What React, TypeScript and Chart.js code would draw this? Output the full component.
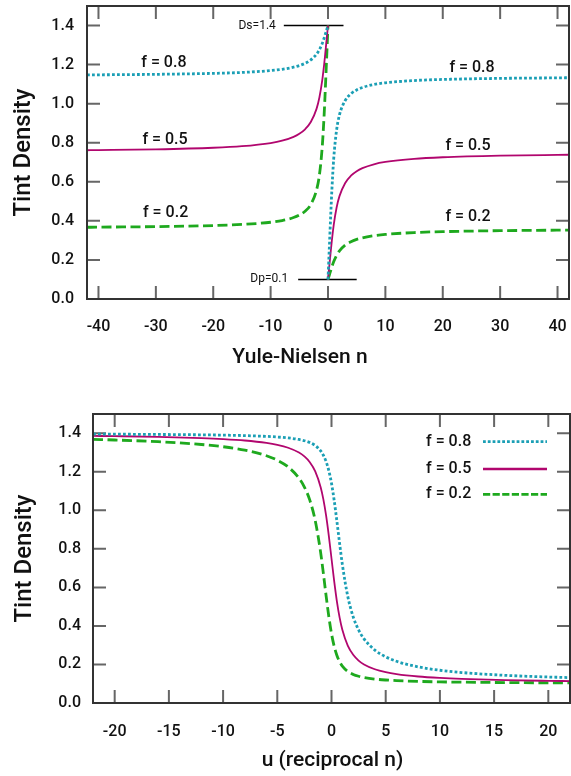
import React, { useEffect, useRef } from "react";
import { Chart, registerables } from "chart.js";
Chart.register(...registerables);

// ---------- data: top chart (Yule-Nielsen n) ----------
const N_NEG = [-42, -40, -30, -20, -15, -10, -8, -6, -5, -4, -3, -2, -1.5, -1, -0.667, -0.5, -0.333, -0.25, -0.1, -0.05, 0];
const N_POS = [0, 0.05, 0.1, 0.25, 0.333, 0.5, 0.667, 1, 1.5, 2, 3, 4, 5, 6, 8, 10, 15, 20, 30, 40, 42];

const TOP_F08_NEG = [1.1472, 1.1477, 1.1502, 1.1551, 1.1599, 1.1693, 1.176, 1.1868, 1.195, 1.2065, 1.2241, 1.2535, 1.2764, 1.3085, 1.3362, 1.3517, 1.3677, 1.3758, 1.3903, 1.3952, 1.4];
const TOP_F08_POS = [0.1, 0.1349, 0.1699, 0.2747, 0.3329, 0.4473, 0.5533, 0.7196, 0.8656, 0.9424, 1.0163, 1.0506, 1.0704, 1.083, 1.0982, 1.107, 1.1184, 1.124, 1.1295, 1.1321, 1.1328];
const TOP_F05_NEG = [0.7616, 0.7622, 0.7661, 0.7743, 0.7824, 0.7985, 0.8104, 0.8302, 0.8459, 0.869, 0.9059, 0.9734, 1.0315, 1.1202, 1.2025, 1.25, 1.2997, 1.3247, 1.3699, 1.3849, 1.4];
const TOP_F05_POS = [0.1, 0.1151, 0.1301, 0.1753, 0.2003, 0.25, 0.2975, 0.3798, 0.4685, 0.5266, 0.5941, 0.631, 0.6541, 0.6698, 0.6896, 0.7015, 0.7176, 0.7257, 0.7339, 0.7378, 0.7384];
const TOP_F02_NEG = [0.3672, 0.3679, 0.3705, 0.376, 0.3816, 0.393, 0.4018, 0.417, 0.4296, 0.4494, 0.4837, 0.5576, 0.6344, 0.7804, 0.9467, 1.0527, 1.1671, 1.2253, 1.3301, 1.3651, 1.4];
const TOP_F02_POS = [0.1, 0.1048, 0.1097, 0.1242, 0.1323, 0.1483, 0.1638, 0.1915, 0.2236, 0.2465, 0.2759, 0.2935, 0.305, 0.3132, 0.324, 0.3307, 0.3401, 0.3449, 0.3498, 0.3523, 0.3528];

const DS_LINE_N = [-7.7, 2.7];
const DS_VALUE = 1.4;
const DP_LINE_N = [-5.2, 5.0];
const DP_VALUE = 0.1;

// ---------- data: bottom chart (u = reciprocal n) ----------
const U_VALUES = [-22, -20, -16, -12, -10, -8, -6, -5, -4, -3, -2.5, -2, -1.5, -1, -0.75, -0.5, -0.25, 0, 0.25, 0.5, 0.75, 1, 1.5, 2, 2.5, 3, 4, 5, 6, 8, 10, 12, 16, 20, 22];
const BOT_F08 = [1.3956, 1.3952, 1.3939, 1.3919, 1.3903, 1.3879, 1.3838, 1.3806, 1.3758, 1.3677, 1.3613, 1.3517, 1.3362, 1.3085, 1.2859, 1.2535, 1.2065, 1.14, 1.0506, 0.9424, 0.8274, 0.7196, 0.5533, 0.4473, 0.3792, 0.3329, 0.2747, 0.2398, 0.2165, 0.1874, 0.1699, 0.1582, 0.1437, 0.1349, 0.1318];
const BOT_F05 = [1.3863, 1.3849, 1.3812, 1.3749, 1.3699, 1.3624, 1.3498, 1.3398, 1.3247, 1.2997, 1.2797, 1.25, 1.2025, 1.1202, 1.0569, 0.9734, 0.869, 0.75, 0.631, 0.5266, 0.4431, 0.3798, 0.2975, 0.25, 0.2203, 0.2003, 0.1753, 0.1602, 0.1502, 0.1376, 0.1301, 0.1251, 0.1188, 0.1151, 0.1137];
const BOT_F02 = [1.3682, 1.3651, 1.3563, 1.3418, 1.3301, 1.3126, 1.2835, 1.2602, 1.2253, 1.1671, 1.1208, 1.0527, 0.9467, 0.7804, 0.6726, 0.5576, 0.4494, 0.36, 0.2935, 0.2465, 0.2141, 0.1915, 0.1638, 0.1483, 0.1387, 0.1323, 0.1242, 0.1194, 0.1162, 0.1121, 0.1097, 0.1081, 0.1061, 0.1048, 0.1044];

// ---------- ticks / labels ----------
const TOP_X_TICKS = [-40, -30, -20, -10, 0, 10, 20, 30, 40];
const BOT_X_TICKS = [-20, -15, -10, -5, 0, 5, 10, 15, 20];
const Y_TICKS = [0, 0.2, 0.4, 0.6, 0.8, 1.0, 1.2, 1.4];
const SERIES_LABELS = ["f = 0.8", "f = 0.5", "f = 0.2"];

// ---------- styles ----------
const FONT = "Roboto, 'Noto Sans', sans-serif";
const CYAN = "#1b9fb5";
const MAGENTA = "#b1066e";
const GREEN = "#1ea91e";
const STYLES = [
  { borderColor: CYAN, borderWidth: 2.8, borderDash: [2.8, 2.2], borderCapStyle: "butt" },
  { borderColor: MAGENTA, borderWidth: 1.8, borderDash: [] },
  { borderColor: GREEN, borderWidth: 2.8, borderDash: [10, 4.5], borderCapStyle: "butt" },
];
const LEGEND_STYLES = [
  { color: CYAN, width: 2.8, dash: [2.8, 2.0] },
  { color: MAGENTA, width: 2.4, dash: [] },
  { color: GREEN, width: 2.8, dash: [7.2, 2.4] },
];

// annotation placement (data coordinates) for top chart texts
const TOP_TEXT = [
  { t: "f = 0.8", x: -28.6, y: 1.209 },
  { t: "f = 0.5", x: -28.4, y: 0.816 },
  { t: "f = 0.2", x: -28.3, y: 0.441 },
  { t: "f = 0.8", x: 25.1, y: 1.182 },
  { t: "f = 0.5", x: 24.4, y: 0.784 },
  { t: "f = 0.2", x: 24.4, y: 0.418 },
];

const W = 571;
const H = 388;

function pts(xs: number[], ys: number[]) {
  return xs.map((x, i) => ({ x, y: ys[i] }));
}

function tickFramePlugin(xTicks: number[], yTicks: number[]) {
  return {
    id: "tickFrame",
    beforeDatasetsDraw(chart: any) {
      const { ctx, chartArea: a, scales } = chart;
      ctx.save();
      ctx.strokeStyle = "#666";
      ctx.lineWidth = 2;
      ctx.beginPath();
      const L = 13;
      for (const v of xTicks) {
        const x = scales.x.getPixelForValue(v);
        ctx.moveTo(x, a.bottom);
        ctx.lineTo(x, a.bottom - L);
        ctx.moveTo(x, a.top);
        ctx.lineTo(x, a.top + L);
      }
      for (const v of yTicks) {
        const y = scales.y.getPixelForValue(v);
        ctx.moveTo(a.left, y);
        ctx.lineTo(a.left + L, y);
        ctx.moveTo(a.right, y);
        ctx.lineTo(a.right - L, y);
      }
      ctx.stroke();
      ctx.restore();
    },
    afterDatasetsDraw(chart: any) {
      const { ctx, chartArea: a } = chart;
      ctx.save();
      ctx.strokeStyle = "#333";
      ctx.lineWidth = 2;
      ctx.strokeRect(a.left, a.top, a.right - a.left, a.bottom - a.top);
      ctx.restore();
    },
  };
}

function titlesPlugin(yTitle: string, yx: number, xTitle: string, xx: number, xy: number) {
  return {
    id: "titles",
    afterDraw(chart: any) {
      const { ctx, chartArea: a } = chart;
      ctx.save();
      ctx.fillStyle = "#111";
      ctx.textAlign = "center";
      ctx.textBaseline = "middle";
      ctx.font = `500 24px ${FONT}`;
      ctx.translate(yx, (a.top + a.bottom) / 2);
      ctx.rotate(-Math.PI / 2);
      ctx.fillText(yTitle, 0, 0);
      ctx.restore();
      ctx.save();
      ctx.fillStyle = "#111";
      ctx.textAlign = "center";
      ctx.textBaseline = "middle";
      ctx.font = `500 21px ${FONT}`;
      ctx.fillText(xTitle, xx, xy);
      ctx.restore();
    },
  };
}

const topTextPlugin = {
  id: "topText",
  afterDatasetsDraw(chart: any) {
    const { ctx, scales } = chart;
    ctx.save();
    ctx.fillStyle = "#111";
    ctx.textBaseline = "middle";
    ctx.textAlign = "center";
    ctx.font = `500 16px ${FONT}`;
    for (const l of TOP_TEXT) {
      ctx.fillText(l.t, scales.x.getPixelForValue(l.x), scales.y.getPixelForValue(l.y));
    }
    ctx.font = `12px ${FONT}`;
    ctx.textAlign = "right";
    ctx.fillText("Ds=1.4", scales.x.getPixelForValue(-9.1), scales.y.getPixelForValue(DS_VALUE));
    ctx.fillText("Dp=0.1", scales.x.getPixelForValue(-6.95), scales.y.getPixelForValue(DP_VALUE));
    ctx.restore();
  },
};

const legendPlugin = {
  id: "customLegend",
  afterDatasetsDraw(chart: any) {
    const { ctx } = chart;
    const rows = [53.7, 81, 106.3];
    ctx.save();
    ctx.font = `500 16px ${FONT}`;
    ctx.textBaseline = "middle";
    ctx.textAlign = "left";
    ctx.fillStyle = "#111";
    SERIES_LABELS.forEach((lab, i) => {
      const y = rows[i];
      ctx.fillText(lab, 426, y);
      const st = LEGEND_STYLES[i];
      ctx.strokeStyle = st.color;
      ctx.lineWidth = st.width;
      ctx.setLineDash(st.dash);
      ctx.lineCap = "butt";
      ctx.beginPath();
      ctx.moveTo(483, y);
      ctx.lineTo(547, y);
      ctx.stroke();
    });
    ctx.setLineDash([]);
    ctx.restore();
  },
};

function baseScales(xMin: number, xMax: number, xTicks: number[], yWidth: number, xHeight: number, yPad: number, xPad: number) {
  const tickFont = { family: FONT, size: 16, weight: "500" as any };
  return {
    x: {
      type: "linear" as const,
      min: xMin,
      max: xMax,
      afterBuildTicks: (s: any) => {
        s.ticks = xTicks.map((value) => ({ value }));
      },
      afterFit: (s: any) => {
        s.height = xHeight;
        s.paddingLeft = 0;
        s.paddingRight = 0;
        s.paddingTop = 0;
        s.paddingBottom = 0;
      },
      grid: { display: false, drawTicks: false },
      border: { display: false },
      ticks: {
        padding: xPad,
        font: tickFont,
        color: "#111",
        maxRotation: 0,
        autoSkip: false,
        callback: (v: any) => String(v),
      },
    },
    y: {
      type: "linear" as const,
      min: 0,
      max: 1.5,
      afterBuildTicks: (s: any) => {
        s.ticks = Y_TICKS.map((value) => ({ value }));
      },
      afterFit: (s: any) => {
        s.width = yWidth;
        s.paddingLeft = 0;
        s.paddingRight = 0;
        s.paddingTop = 0;
        s.paddingBottom = 0;
      },
      grid: { display: false, drawTicks: false },
      border: { display: false },
      ticks: {
        padding: yPad,
        font: tickFont,
        color: "#111",
        autoSkip: false,
        callback: (v: any) => Number(v).toFixed(1),
      },
    },
  };
}

export default function App() {
  const topRef = useRef<HTMLCanvasElement>(null);
  const botRef = useRef<HTMLCanvasElement>(null);

  useEffect(() => {
    const common = {
      responsive: false,
      animation: false as const,
      devicePixelRatio: 1,
      events: [] as any[],
      plugins: { legend: { display: false }, tooltip: { enabled: false } },
      elements: { point: { radius: 0 }, line: { cubicInterpolationMode: "monotone" as const, fill: false } },
    };

    const topSeries = [
      [TOP_F08_NEG, TOP_F08_POS],
      [TOP_F05_NEG, TOP_F05_POS],
      [TOP_F02_NEG, TOP_F02_POS],
    ];
    const topDatasets: any[] = [];
    topSeries.forEach((pair, i) => {
      topDatasets.push({ label: SERIES_LABELS[i], data: pts(N_NEG, pair[0]), ...STYLES[i] });
      topDatasets.push({ label: SERIES_LABELS[i], data: pts(N_POS, pair[1]), ...STYLES[i] });
    });
    topDatasets.push({
      label: "Ds",
      data: pts(DS_LINE_N, [DS_VALUE, DS_VALUE]),
      borderColor: "#000",
      borderWidth: 1.4,
      cubicInterpolationMode: "default",
    });
    topDatasets.push({
      label: "Dp",
      data: pts(DP_LINE_N, [DP_VALUE, DP_VALUE]),
      borderColor: "#000",
      borderWidth: 1.4,
      cubicInterpolationMode: "default",
    });

    const top = new Chart(topRef.current!, {
      type: "line",
      data: { datasets: topDatasets },
      options: {
        ...common,
        layout: { padding: { top: 6, right: 2, left: 0, bottom: 0 } },
        scales: baseScales(-42, 42, TOP_X_TICKS, 87, H - 299, 13, 18) as any,
      } as any,
      plugins: [tickFramePlugin(TOP_X_TICKS, Y_TICKS), topTextPlugin, titlesPlugin("Tint Density", 24, "Yule-Nielsen n", 300, 358)],
    });

    const botSeries = [BOT_F08, BOT_F05, BOT_F02];
    const botDatasets = botSeries.map((ys, i) => ({
      label: SERIES_LABELS[i],
      data: pts(U_VALUES, ys),
      ...STYLES[i],
    }));

    const bot = new Chart(botRef.current!, {
      type: "line",
      data: { datasets: botDatasets as any },
      options: {
        ...common,
        layout: { padding: { top: 26, right: 1, left: 0, bottom: 0 } },
        scales: baseScales(-22, 22, BOT_X_TICKS, 93, H - 315, 12, 19) as any,
      } as any,
      plugins: [tickFramePlugin(BOT_X_TICKS, Y_TICKS), legendPlugin, titlesPlugin("Tint Density", 25, "u (reciprocal n)", 332.5, 373)],
    });

    return () => {
      top.destroy();
      bot.destroy();
    };
  }, []);

  return (
    <div style={{ position: "absolute", left: 0, top: 0, width: W, height: 776, background: "#fff" }}>
      <canvas ref={topRef} width={W} height={H} style={{ position: "absolute", left: 0, top: 0, width: W, height: H }} />
      <canvas ref={botRef} width={W} height={H} style={{ position: "absolute", left: 0, top: H, width: W, height: H }} />
    </div>
  );
}
